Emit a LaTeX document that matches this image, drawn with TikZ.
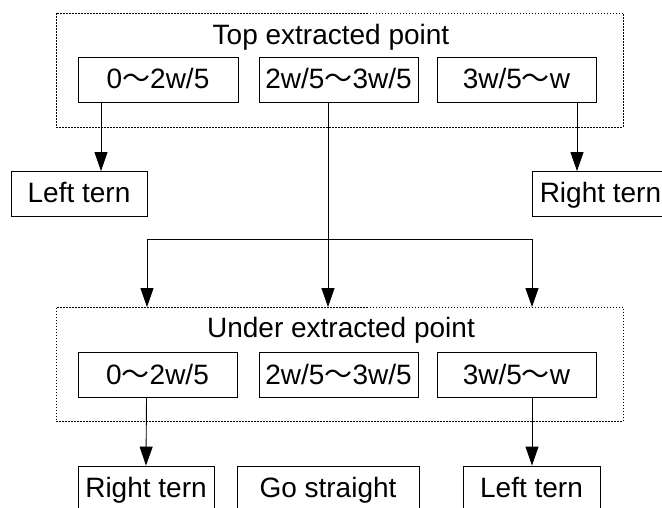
\documentclass[tikz,border=0pt]{standalone}
\usepackage{fontspec}
\setmainfont{Liberation Sans}
\newfontfamily\cjkfont{Noto Sans CJK SC}
\newcommand\wavesym{{\cjkfont ～}}
\usetikzlibrary{arrows.meta}
\begin{document}
\begin{tikzpicture}[x=1pt,y=-1pt,
  every node/.style={font=\fontsize{28}{32}\selectfont, inner sep=0pt},
  box/.style={draw, line width=0.9pt, minimum height=45pt, text height=22pt, text depth=4pt},
  group/.style={draw, line width=0.9pt, dash pattern=on 1.5pt off 1.5pt, minimum width=567pt, minimum height=114pt},
  arr/.style={line width=0.9pt, -{Triangle[width=13pt,length=19pt]}},
  ln/.style={line width=0.9pt}]
\useasboundingbox (0,0) rectangle (662,508);
% top group
\node[group] (tg) at (339.5,70) {};
\node[anchor=base] (tt) at (331,45) {Top extracted point};
\node[box, minimum width=160pt] (t1) at (158,79.5) {0\wavesym 2w/5};
\node[box, minimum width=159pt] (t2) at (338.5,79.5) {2w/5\wavesym 3w/5};
\node[box, minimum width=159pt] (t3) at (516.5,79.5) {3w/5\wavesym w};
% turn boxes
\node[box, minimum width=136pt] (lt) at (79,194) {Left tern};
\node[box, minimum width=136pt, anchor=west] (rt) at (532,194) {Right tern};
% bottom group
\node[group] (bg) at (339.5,364.5) {};
\node[anchor=base] (bt) at (341,337) {Under extracted point};
\node[box, minimum width=159pt] (b1) at (157.5,375) {0\wavesym 2w/5};
\node[box, minimum width=159pt] (b2) at (338.5,375) {2w/5\wavesym 3w/5};
\node[box, minimum width=159pt] (b3) at (516.5,375) {3w/5\wavesym w};
% result boxes
\node[box, minimum width=136pt] (r1) at (146,488.5) {Right tern};
\node[box, minimum width=182pt] (r2) at (328,488.5) {Go straight};
\node[box, minimum width=137pt] (r3) at (531.5,488.5) {Left tern};
% connectors
\draw[arr] ([xshift=-57pt]t1.south) -- ([xshift=22pt]lt.north);
\draw[arr] ([xshift=60.5pt]t3.south) -- ([xshift=45pt]rt.north west);
\coordinate (split) at ([xshift=-10.5pt]t2.south |- 0,239);
\draw[arr] ([xshift=-10.5pt]t2.south) -- ([xshift=-11.5pt]bg.north);
\coordinate (hl) at (147,239);
\coordinate (hr) at (532,239);
\draw[ln] (hl) -- (hr);
\draw[arr] (hl) -- (hl |- bg.north);
\draw[arr] (hr) -- (hr |- bg.north);
\draw[arr] ([xshift=-11pt]b1.south) -- (r1.north);
\draw[arr] ([xshift=15.5pt]b3.south) -- ([xshift=0.5pt]r3.north);
\end{tikzpicture}
\end{document}
